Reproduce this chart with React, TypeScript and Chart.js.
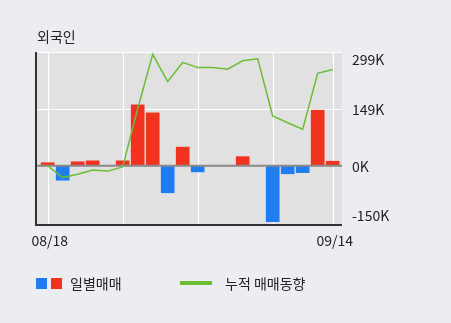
import React, { useEffect, useRef } from "react";
import { Chart, registerables } from "chart.js";

Chart.register(...registerables);

const dates = [
  "08/18", "08/21", "08/22", "08/23", "08/24", "08/25", "08/28", "08/29", "08/30", "08/31",
  "09/01", "09/04", "09/05", "09/06", "09/07", "09/08", "09/11", "09/12", "09/13", "09/14",
];
const dailyNet = [
  8000, -38000, 10500, 13000, 0, 13000, 160000, 139000, -71000, 49000,
  -16000, 0, 0, 24000, 0, -147000, -21000, -18000, 146000, 12000,
];
const cumulative = [
  0, -31000, -22000, -11000, -14000, -3000, 150000, 293000, 221000, 272000,
  258000, 258000, 254000, 276000, 281000, 131000, 113000, 96000, 243000, 253000,
];
const yTickValues = [-150000, 0, 149000, 299000];
const yTickLabels = ["-150K", "0K", "149K", "299K"];
const xGridIndices = [0, 5, 10, 15, 19];
const xLabelIndices = [0, 19];
const titleText = "외국인";
const legendBarText = "일별매매";
const legendLineText = "누적 매매동향";

const RED = "#F0321E";
const BLUE = "#1F7DF0";
const GREEN = "#6CBD35";
const FONT = '"Noto Sans CJK KR", "DejaVu Sans", sans-serif';

export default function App() {
  const ref = useRef<HTMLCanvasElement | null>(null);

  useEffect(() => {
    if (!ref.current) return;
    const decor = {
      id: "decor",
      beforeDatasetsDraw(chart: any) {
        const { ctx, chartArea: a, scales } = chart;
        const x = scales.x;
        const y = scales.y;
        ctx.save();
        ctx.fillStyle = "#E1E1E1";
        ctx.fillRect(a.left, a.top, a.right - a.left, a.bottom - a.top);
        ctx.strokeStyle = "#FFFFFF";
        ctx.lineWidth = 1.2;
        for (const i of xGridIndices) {
          const px = Math.round(x.getPixelForValue(i)) + 0.5;
          ctx.beginPath();
          ctx.moveTo(px, a.top);
          ctx.lineTo(px, a.bottom);
          ctx.stroke();
        }
        for (const v of yTickValues) {
          if (v <= 0) continue;
          const py = Math.round(y.getPixelForValue(v)) + 0.5;
          ctx.beginPath();
          ctx.moveTo(a.left, py);
          ctx.lineTo(a.right, py);
          ctx.stroke();
        }
        ctx.restore();
      },
      afterDatasetDraw(chart: any, args: any) {
        if (args.index !== 0) return;
        const { ctx, chartArea: a, scales } = chart;
        const py = scales.y.getPixelForValue(0);
        ctx.save();
        ctx.strokeStyle = "#8A8A8A";
        ctx.lineWidth = 2;
        ctx.beginPath();
        ctx.moveTo(a.left, py);
        ctx.lineTo(a.right, py);
        ctx.stroke();
        ctx.restore();
      },
      afterDraw(chart: any) {
        const { ctx, chartArea: a, scales } = chart;
        const x = scales.x;
        const y = scales.y;
        ctx.save();
        ctx.strokeStyle = "#333333";
        ctx.lineWidth = 2;
        ctx.beginPath();
        ctx.moveTo(a.left, a.top);
        ctx.lineTo(a.left, a.bottom + 1);
        ctx.lineTo(a.right, a.bottom + 1);
        ctx.stroke();
        ctx.fillStyle = "#222222";
        ctx.font = "14px " + FONT;
        ctx.textAlign = "left";
        ctx.textBaseline = "middle";
        yTickValues.forEach((v, i) => {
          let py = y.getPixelForValue(v);
          py = Math.max(a.top + 7, Math.min(a.bottom - 9, py));
          ctx.fillText(yTickLabels[i], a.right + 10, py + 0.5);
        });
        ctx.textAlign = "center";
        for (const i of xLabelIndices) {
          ctx.fillText(dates[i], x.getPixelForValue(i) + 2, a.bottom + 17);
        }
        ctx.font = "14px " + FONT;
        ctx.textAlign = "left";
        ctx.fillText(titleText, 37, 37);
        ctx.fillStyle = BLUE;
        ctx.fillRect(36, 278, 11, 11);
        ctx.fillStyle = RED;
        ctx.fillRect(51, 278, 11, 11);
        ctx.fillStyle = "#222222";
        ctx.font = "14px " + FONT;
        ctx.fillText(legendBarText, 70, 283.5);
        ctx.strokeStyle = GREEN;
        ctx.lineWidth = 4;
        ctx.beginPath();
        ctx.moveTo(180, 283);
        ctx.lineTo(212, 283);
        ctx.stroke();
        ctx.fillText(legendLineText, 225, 283.5);
        ctx.restore();
      },
    };

    const chart = new Chart(ref.current, {
      type: "bar",
      data: {
        datasets: [
          {
            type: "bar",
            data: dailyNet.map((v, i) => ({ x: i, y: v })),
            backgroundColor: dailyNet.map((v) => (v >= 0 ? RED : BLUE)),
            barThickness: 13,
            order: 2,
          } as any,
          {
            type: "line",
            data: cumulative.map((v, i) => ({ x: i, y: v })),
            borderColor: GREEN,
            borderWidth: 1.5,
            pointRadius: 0,
            tension: 0,
            fill: false,
            order: 1,
          } as any,
        ],
      },
      options: {
        responsive: false,
        animation: false,
        layout: { padding: { left: 36, top: 52, right: 109, bottom: 99 } },
        plugins: { legend: { display: false }, tooltip: { enabled: false } },
        scales: {
          x: {
            type: "linear",
            offset: false,
            min: -0.78,
            max: 19.62,
            grid: { display: false, offset: false },
            border: { display: false },
            ticks: { display: false },
            afterFit: (s: any) => { s.height = 0; },
          },
          y: {
            position: "right",
            min: -153000,
            max: 299000,
            grid: { display: false },
            border: { display: false },
            ticks: { display: false },
            afterFit: (s: any) => { s.width = 0; },
          },
        },
      } as any,
      plugins: [decor],
    });
    return () => chart.destroy();
  }, []);

  return (
    <div
      style={{
        position: "fixed",
        left: 0,
        top: 0,
        width: 451,
        height: 323,
        background: "#ECEDF1",
      }}
    >
      <canvas ref={ref} width={451} height={323} style={{ display: "block" }} />
    </div>
  );
}
